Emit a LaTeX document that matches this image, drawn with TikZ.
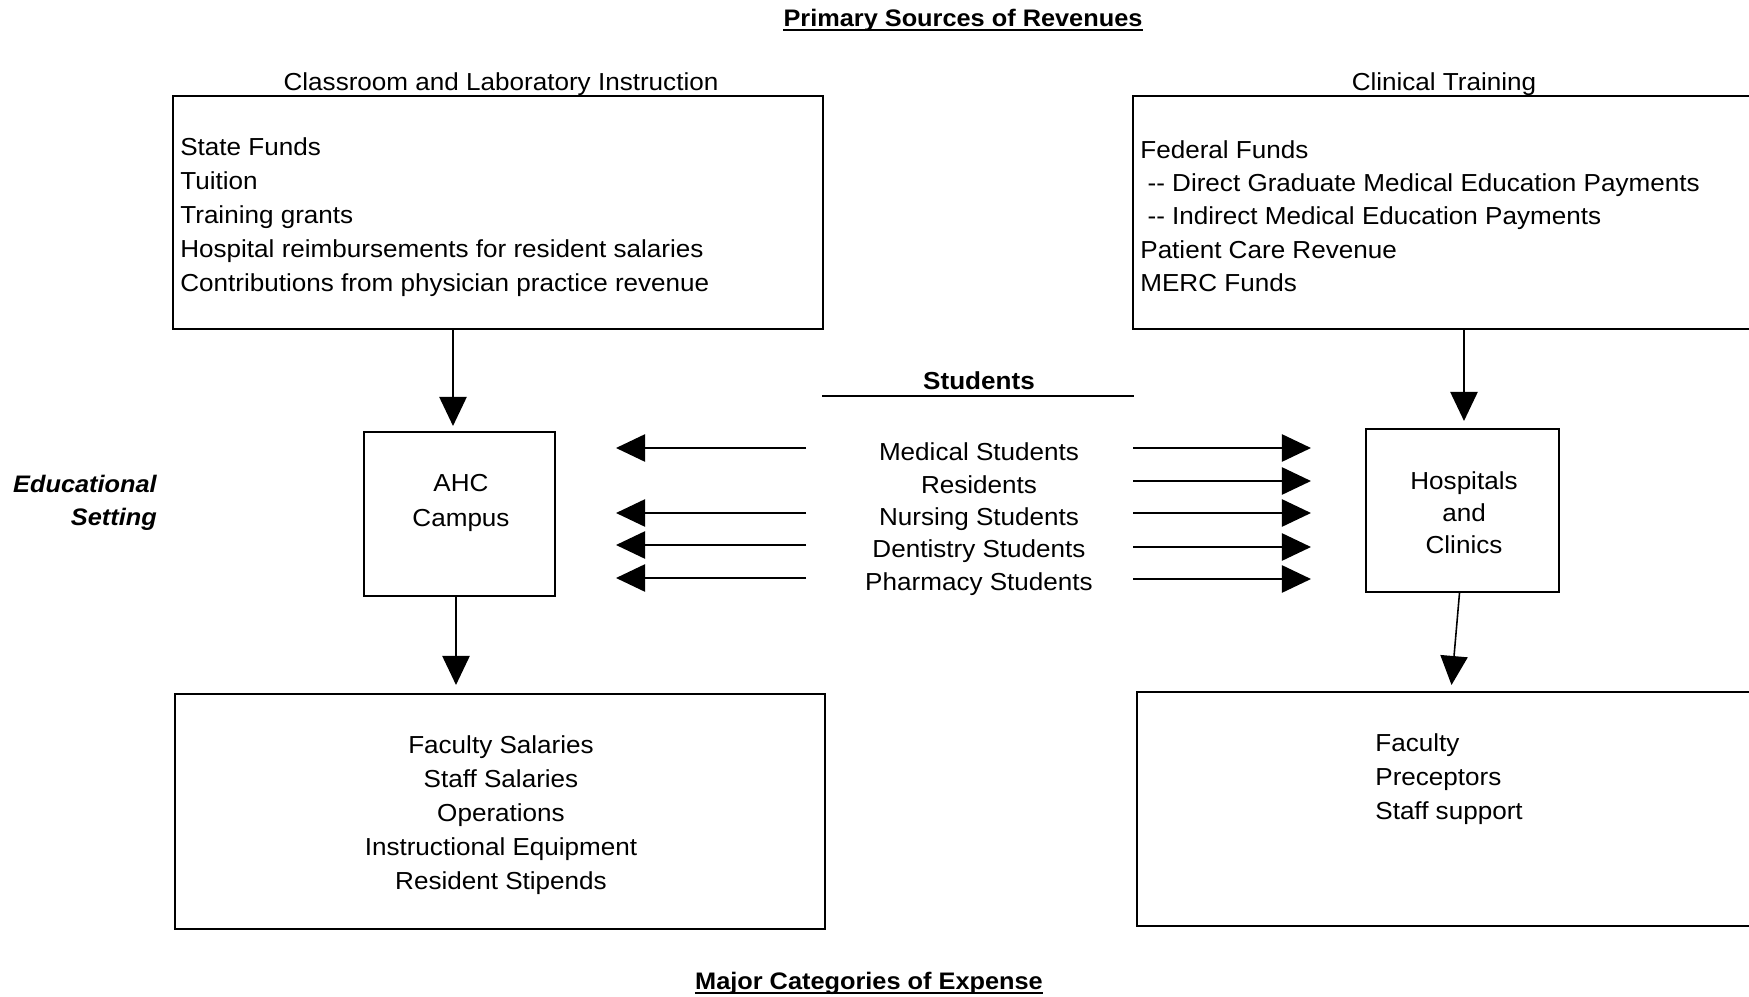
\documentclass[tikz,border=0pt]{standalone}
\usepackage{fontspec}
\setmainfont{Liberation Sans}[FakeStretch=1.06]
\usetikzlibrary{arrows.meta,calc}
\begin{document}
\begin{tikzpicture}[x=0.02cm,y=-0.02cm,
  lower/.style={yshift=-0.06cm},
  body/.style={font=\fontsize{14pt}{19.3pt}\selectfont, inner sep=0pt, lower},
  list/.style={font=\fontsize{14pt}{18.4pt}\selectfont, inner sep=0pt, align=center, lower},
  head/.style={font=\fontsize{13.6pt}{17pt}\selectfont\bfseries, inner sep=0pt},
  side/.style={font=\fontsize{13.6pt}{18.8pt}\selectfont\bfseries\itshape, inner sep=0pt, align=right, lower},
  box/.style={draw, line width=1.2pt},
  rule/.style={line width=1.1pt},
  arr/.style={line width=0.9pt, -{Triangle[length=16.5pt,width=15.5pt]}},
]
\useasboundingbox (0,0) rectangle (1749,997);
\clip (0,0) rectangle (1749,997);

% headings, each with a rule just under its baseline
\node[head] (revtitle) at (963,20) {Primary Sources of Revenues};
\draw[rule] ($(revtitle.base west)+(0,4)$) -- ($(revtitle.base east)+(0,4)$);
\node[head] (exptitle) at (869,983) {Major Categories of Expense};
\draw[rule] ($(exptitle.base west)+(0,4)$) -- ($(exptitle.base east)+(0,4)$);
\node[body] (classlbl) at (501,81) {Classroom and Laboratory Instruction};
\node[body] (cliniclbl) at (1444,81) {Clinical Training};
\node[side] (setting) at (85,500) {Educational\\Setting};

% revenue boxes
\node[box, minimum width=13cm, minimum height=4.66cm] (classrev) at (498,212.5) {};
\node[body, align=left, anchor=west] (classrevtxt) at (180,214)
  {State Funds\\Tuition\\Training grants\\Hospital reimbursements for resident salaries\\Contributions from physician practice revenue};
\node[box, minimum width=12.54cm, minimum height=4.66cm] (clinrev) at (1446.5,212.5) {};
\node[body, align=left, anchor=west, font=\fontsize{14pt}{19pt}\selectfont] (clinrevtxt) at (1140,213)
  {Federal Funds\\\ -{}- Direct Graduate Medical Education Payments\\\ -{}- Indirect Medical Education Payments\\Patient Care Revenue\\MERC Funds};

% educational settings
\node[box, minimum width=3.82cm, minimum height=3.28cm] (ahc) at (459.5,514) {};
\node[list, font=\fontsize{14pt}{19.8pt}\selectfont] (ahctxt) at (461,500) {AHC\\Campus};
\node[box, minimum width=3.86cm, minimum height=3.26cm] (hosp) at (1462.5,510.5) {};
\node[list, font=\fontsize{14pt}{18.3pt}\selectfont] (hosptxt) at (1464,510) {Hospitals\\and\\Clinics};

% students
\node[head, font=\fontsize{14pt}{17pt}\selectfont\bfseries] (stuhead) at (979,381) {Students};
\coordinate (rulel) at (822,396);
\coordinate (ruler) at (1134,396);
\draw[rule] (rulel) -- (ruler);
\node[list] (students) at (979,516)
  {Medical Students\\Residents\\Nursing Students\\Dentistry Students\\Pharmacy Students};

% student flows to the campus
\foreach \y [count=\i] in {448,513,545,578} {
  \coordinate (la\i) at (806,\y);
  \draw[arr, shorten >=1.2cm] (la\i) -- (ahc.east |- la\i);
}
% student flows to hospitals and clinics
\foreach \y [count=\i] in {448,481,513,547,579} {
  \coordinate (ra\i) at (1133,\y);
  \draw[arr, shorten >=1.08cm] (ra\i) -- (hosp.west |- ra\i);
}

% expense boxes
\node[box, minimum width=13cm, minimum height=4.7cm] (classexp) at (500,811.5) {};
\node[body, align=center] (classexptxt) at (501,812)
  {Faculty Salaries\\Staff Salaries\\Operations\\Instructional Equipment\\Resident Stipends};
\node[box, minimum width=12.46cm, minimum height=4.68cm] (clinexp) at (1448.5,809) {};
\node[body, align=left, anchor=west] (clinexptxt) at (1375,776)
  {Faculty\\Preceptors\\Staff support};

% funding and spending flows
\draw[arr, shorten >=0.1cm] (classrev.south -| 453,0) -- (ahc.north -| 453,0);
\draw[arr, shorten >=0.14cm] (clinrev.south -| 1464,0) -- (hosp.north -| 1464,0);
\draw[arr, shorten >=0.16cm] (ahc.south -| 456,0) -- (classexp.north -| 456,0);
\draw[arr, shorten >=0.12cm] ($(hosp.south)+(-3,0)$) -- ($(clinexp.north west)+(315,0)$);
\end{tikzpicture}
\end{document}
